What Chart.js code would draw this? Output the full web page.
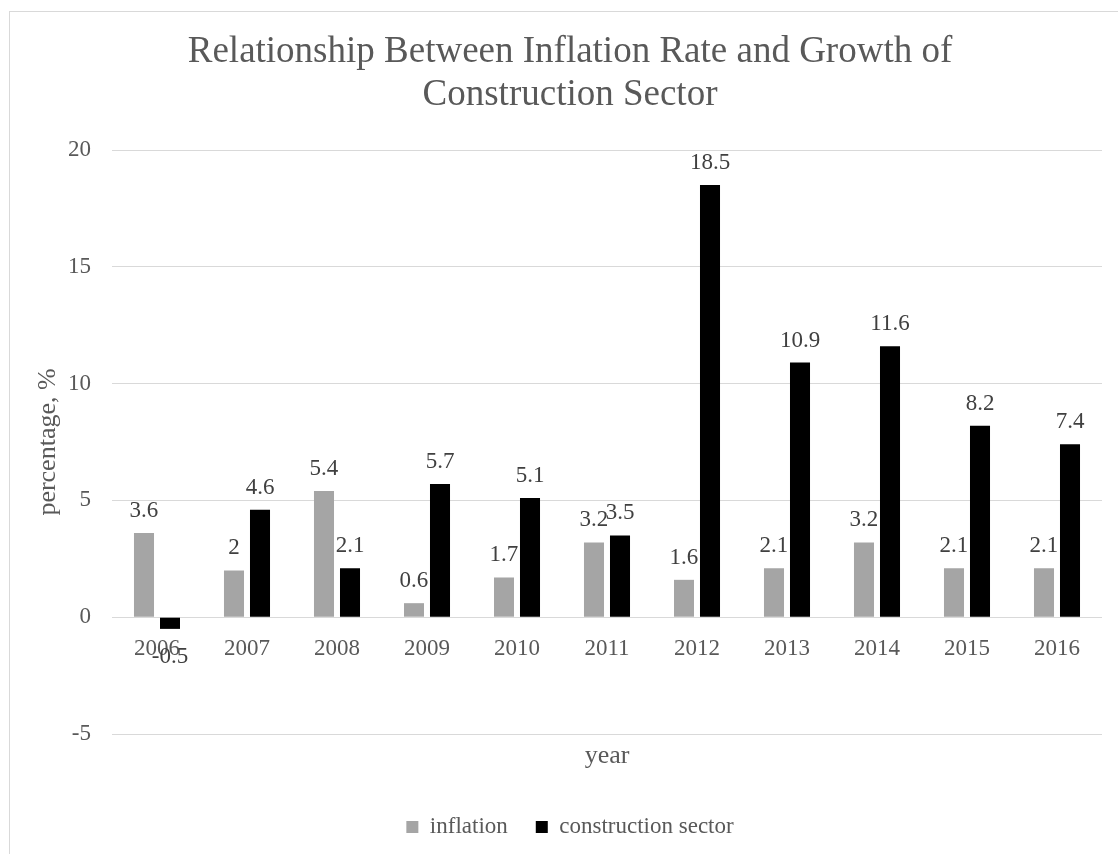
<!DOCTYPE html>
<html>
<head>
<meta charset="utf-8">
<title>Inflation and construction growth</title>
<script src="https://cdn.jsdelivr.net/npm/chart.js@4.4.1/dist/chart.umd.min.js"></script>
<style>
  html, body { margin: 0; padding: 0; overflow: hidden; background: #fff; }
  #frame { position: absolute; left: 9px; top: 11px; width: 1130px; height: 900px; border: 1px solid #d9d9d9; }
  #wrap { position: absolute; left: 0; top: 0; width: 1140px; height: 854px; }
</style>
</head>
<body>
<div id="frame"></div>
<div id="wrap"><canvas id="chart"></canvas></div>
<script>
const years = ['2006', '2007', '2008', '2009', '2010', '2011', '2012', '2013', '2014', '2015', '2016'];
const inflation = [3.6, 2, 5.4, 0.6, 1.7, 3.2, 1.6, 2.1, 3.2, 2.1, 2.1];
const construction = [-0.5, 4.6, 2.1, 5.7, 5.1, 3.5, 18.5, 10.9, 11.6, 8.2, 7.4];

const serif = "'Liberation Serif', 'Times New Roman', serif";
const textGrey = '#595959';

Chart.defaults.font.family = serif;
Chart.defaults.color = textGrey;

// value labels: above positive bars, below negative ones
const barLabels = {
    id: 'barLabels',
    afterDatasetsDraw(chart) {
        const ctx = chart.ctx;
        ctx.save();
        ctx.font = '23px ' + serif;
        ctx.fillStyle = '#404040';
        ctx.textAlign = 'center';
        ctx.textBaseline = 'alphabetic';
        chart.data.datasets.forEach((ds, i) => {
            chart.getDatasetMeta(i).data.forEach((bar, j) => {
                const v = ds.data[j];
                const y = v < 0 ? bar.y + 34 : bar.y - 16;
                ctx.fillText(String(v), bar.x, y);
            });
        });
        ctx.restore();
    }
};

new Chart(document.getElementById('chart'), {
    type: 'bar',
    data: {
        labels: years,
        datasets: [
            {
                label: 'inflation',
                data: inflation,
                backgroundColor: '#a5a5a5',
                categoryPercentage: 0.578,
                barPercentage: 0.77
            },
            {
                label: 'construction sector',
                data: construction,
                backgroundColor: '#000000',
                categoryPercentage: 0.578,
                barPercentage: 0.77
            }
        ]
    },
    options: {
        responsive: true,
        maintainAspectRatio: false,
        animation: false,
        layout: { padding: { left: 0, right: 0, top: 0, bottom: 5.5 } },
        scales: {
            x: {
                position: { y: 0 },
                grid: { display: false },
                border: { display: false },
                ticks: { font: { size: 23 }, color: textGrey, padding: 10 }
            },
            y: {
                min: -5,
                max: 20,
                ticks: { stepSize: 5, font: { size: 23 }, color: textGrey, padding: 21 },
                grid: { color: '#d9d9d9', lineWidth: 1, drawTicks: false },
                border: { display: false },
                title: {
                    display: true,
                    text: 'percentage, %',
                    font: { size: 26 },
                    color: textGrey,
                    padding: { top: 32.4, bottom: 0 }
                },
                afterFit: (s) => { s.width = 112; }
            },
            // empty right-hand axis, only keeps space at the right edge
            yRight: {
                position: 'right',
                display: true,
                grid: { display: false },
                border: { display: false },
                ticks: { display: false },
                afterFit: (s) => { s.width = 38; }
            }
        },
        plugins: {
            title: {
                display: true,
                text: ['Relationship Between Inflation Rate and Growth of', 'Construction Sector'],
                font: { size: 37, weight: 'normal', lineHeight: '43px' },
                color: textGrey,
                padding: { top: 31, bottom: 33 }
            },
            subtitle: {
                display: true,
                position: 'bottom',
                fullSize: false,
                text: 'year',
                font: { size: 26, weight: 'normal', lineHeight: 1.2 },
                color: textGrey,
                padding: { top: 6.4, bottom: 15.9 }
            },
            legend: {
                position: 'bottom',
                weight: 3000,
                labels: {
                    boxWidth: 12,
                    boxHeight: 12,
                    padding: 28,
                    font: { size: 23 },
                    color: textGrey
                }
            },
            tooltip: { enabled: false }
        }
    },
    plugins: [barLabels]
});
</script>
</body>
</html>
